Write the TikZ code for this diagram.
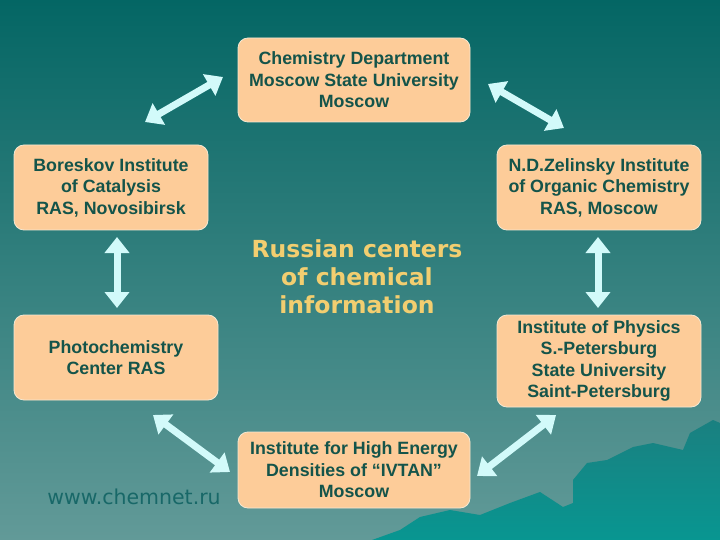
\documentclass[tikz,border=0pt]{standalone}
\usepackage{fontspec}
\setmainfont{Liberation Sans}
\newfontfamily\titlefont{DejaVu Sans}
\usetikzlibrary{arrows.meta}
\definecolor{bgtop}{RGB}{4,102,100}
\definecolor{bgbot}{RGB}{98,154,152}
\definecolor{boxfill}{RGB}{253,204,153}
\definecolor{boxline}{RGB}{245,232,210}
\definecolor{boxtext}{RGB}{20,84,74}
\definecolor{titlecol}{RGB}{242,206,112}
\definecolor{arrowcol}{RGB}{210,250,250}
\definecolor{urlcol}{RGB}{24,104,104}
\definecolor{mtdark}{RGB}{26,128,128}
\definecolor{mtlight}{RGB}{8,150,145}
\tikzset{
  inst/.style={draw=boxline, line width=0.8pt, fill=boxfill, rounded corners=10pt,
    align=center, text=boxtext, font=\fontsize{17.8}{21.5}\selectfont\bfseries,
    inner sep=0pt},
  link/.style={arrowcol, line width=7pt,
    {Triangle[width=24pt,length=16pt]}-{Triangle[width=24pt,length=16pt]}},
}
\begin{document}
\begin{tikzpicture}[x=1pt,y=-1pt]
\useasboundingbox (0,0) rectangle (720,540);
\shade[top color=bgtop, bottom color=bgbot] (0,0) rectangle (720,540);
% mountains
\shade[top color=mtdark, bottom color=mtlight]
  (372,540) -- (400,530) -- (420,517) -- (450,510) -- (480,515) -- (510,503)
  -- (540,492) -- (563,507) -- (573,503) -- (573,480) -- (587,463) -- (607,460)
  -- (633,447) -- (653,443) -- (683,450) -- (690,433) -- (713,420) -- (720,423)
  -- (720,540) -- cycle;
% boxes
\node[inst, minimum width=232pt, minimum height=84pt] (msu) at (354,80)
  {Chemistry Department\\Moscow State University\\Moscow};
\node[inst, minimum width=194pt, minimum height=85pt] (bor) at (111,187.5)
  {Boreskov Institute\\of Catalysis\\RAS, Novosibirsk};
\node[inst, minimum width=204pt, minimum height=85pt] (zel) at (599,187.5)
  {N.D.Zelinsky Institute\\of Organic Chemistry\\RAS, Moscow};
\node[inst, minimum width=204pt, minimum height=85pt] (pho) at (116,357.5)
  {Photochemistry\\Center RAS};
\node[inst, minimum width=204pt, minimum height=92pt] (phy) at (599,361)
  {Institute of Physics\\S.-Petersburg\\State University\\Saint-Petersburg};
\node[inst, minimum width=232pt, minimum height=76pt] (ivt) at (354,470)
  {Institute for High Energy\\Densities of “IVTAN”\\Moscow};
% centre title
\node[align=center, text=titlecol, font=\titlefont\fontsize{23.5}{28}\selectfont\bfseries] (title) at (357,277)
  {Russian centers\\of chemical\\information};
\node[text=urlcol, font=\titlefont\fontsize{20.5}{22}\selectfont, anchor=center] (url) at (134,497) {www.chemnet.ru};
% connector end points
\coordinate (a1) at (145,122); \coordinate (a2) at (223,77);
\coordinate (b1) at (488,84);  \coordinate (b2) at (564,128);
\coordinate (c1) at (117,237); \coordinate (c2) at (117,308);
\coordinate (d1) at (598,237); \coordinate (d2) at (598,308);
\coordinate (e1) at (153,415); \coordinate (e2) at (230,472);
\coordinate (f1) at (477,476); \coordinate (f2) at (556,415);
\draw[link] (a1) -- (a2);
\draw[link] (b1) -- (b2);
\draw[link] (c1) -- (c2);
\draw[link] (d1) -- (d2);
\draw[link] (e1) -- (e2);
\draw[link] (f1) -- (f2);
\end{tikzpicture}
\end{document}
